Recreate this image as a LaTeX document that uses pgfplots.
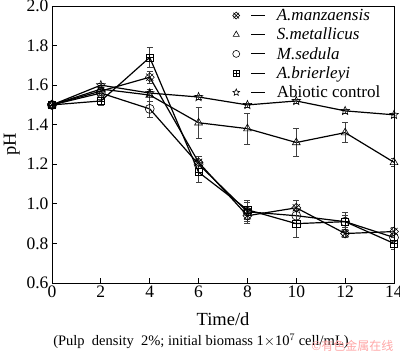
\documentclass[border=0pt]{standalone}
\usepackage{pgfplots}
\pgfplotsset{compat=1.18}
\usepackage{fontspec}
\setmainfont{Liberation Serif}
\newfontfamily\cjk{Noto Sans CJK SC}
\pgfdeclareplotmark{xdiamond}{%
  \pgfpathmoveto{\pgfpoint{0pt}{\pgfplotmarksize}}%
  \pgfpathlineto{\pgfpoint{\pgfplotmarksize}{0pt}}%
  \pgfpathlineto{\pgfpoint{0pt}{-\pgfplotmarksize}}%
  \pgfpathlineto{\pgfpoint{-\pgfplotmarksize}{0pt}}%
  \pgfpathclose
  \pgfpathmoveto{\pgfpoint{-0.8\pgfplotmarksize}{-0.8\pgfplotmarksize}}%
  \pgfpathlineto{\pgfpoint{0.8\pgfplotmarksize}{0.8\pgfplotmarksize}}%
  \pgfpathmoveto{\pgfpoint{-0.8\pgfplotmarksize}{0.8\pgfplotmarksize}}%
  \pgfpathlineto{\pgfpoint{0.8\pgfplotmarksize}{-0.8\pgfplotmarksize}}%
  \pgfusepathqstroke}
\pgfdeclareplotmark{sqplus}{%
  \pgfpathrectangle{\pgfpoint{-0.8\pgfplotmarksize}{-0.8\pgfplotmarksize}}{\pgfpoint{1.6\pgfplotmarksize}{1.6\pgfplotmarksize}}%
  \pgfpathmoveto{\pgfpoint{-0.8\pgfplotmarksize}{0pt}}%
  \pgfpathlineto{\pgfpoint{0.8\pgfplotmarksize}{0pt}}%
  \pgfpathmoveto{\pgfpoint{0pt}{-0.8\pgfplotmarksize}}%
  \pgfpathlineto{\pgfpoint{0pt}{0.8\pgfplotmarksize}}%
  \pgfusepathqstroke}
\pgfdeclareplotmark{ostar}{%
  \pgfpathmoveto{\pgfpointpolar{90}{\pgfplotmarksize}}%
  \pgfpathlineto{\pgfpointpolar{126}{0.45\pgfplotmarksize}}%
  \pgfpathlineto{\pgfpointpolar{162}{\pgfplotmarksize}}%
  \pgfpathlineto{\pgfpointpolar{198}{0.45\pgfplotmarksize}}%
  \pgfpathlineto{\pgfpointpolar{234}{\pgfplotmarksize}}%
  \pgfpathlineto{\pgfpointpolar{270}{0.45\pgfplotmarksize}}%
  \pgfpathlineto{\pgfpointpolar{306}{\pgfplotmarksize}}%
  \pgfpathlineto{\pgfpointpolar{342}{0.45\pgfplotmarksize}}%
  \pgfpathlineto{\pgfpointpolar{18}{\pgfplotmarksize}}%
  \pgfpathlineto{\pgfpointpolar{54}{0.45\pgfplotmarksize}}%
  \pgfpathclose
  \pgfusepathqstroke}
\begin{document}
\begin{tikzpicture}[x=1pt,y=1pt]
\begin{axis}[
  at={(0pt,0pt)}, anchor=south west,
  scale only axis, width=342pt, height=277pt,
  xmin=0, xmax=14, ymin=0.6, ymax=2.0,
  xtick={0,2,...,14}, ytick={0.6,0.8,...,2.0},
  yticklabel style={/pgf/number format/fixed,/pgf/number format/fixed zerofill,/pgf/number format/precision=1},
  /pgf/number format/assume math mode=true,
  tick pos=left, tick align=inside, major tick length=5pt,
  ticklabel style={font=\fontsize{17.5}{17.5}\selectfont},
  xticklabel style={yshift=1pt},
  xlabel={Time/d}, ylabel={pH},
  label style={font=\fontsize{18.5}{18.5}\selectfont},
  xlabel style={yshift=-8pt},
  ylabel style={yshift=0pt},
  axis line style={line width=0.9pt},
  every tick/.style={line width=0.8pt,black},
  every axis plot/.append style={black, line width=1.2pt, mark size=4.5pt,
    mark options={solid, line width=0.6pt}},
  error bars/y dir=both, error bars/y explicit, error bars/error mark=-,
  error bars/error bar style={line width=0.5pt, black!75},
  error bars/error mark options={line width=0.5pt, mark size=3pt, rotate=90, black!75},
  legend style={draw=none, fill=none, at={(0.525,1.0)}, anchor=north west,
    font=\fontsize{17}{17}\selectfont, row sep=2pt, inner sep=1pt,
    /tikz/every odd column/.append style={column sep=9pt}},
  legend cell align=left,
  legend image code/.code={%
    \draw[mark size=3.5pt] plot coordinates {(4pt,0pt)};
    \draw[line width=1.2pt] (19pt,0pt) -- (33pt,0pt);
  },
]
\addplot[mark=xdiamond] coordinates {
 (0,1.50) +- (0,0.00)
 (2,1.57) +- (0,0.02)
 (4,1.64) +- (0,0.03)
 (6,1.21) +- (0,0.03)
 (8,0.94) +- (0,0.04)
 (10,0.98) +- (0,0.04)
 (12,0.85) +- (0,0.02)
 (14,0.86) +- (0,0.02)
};
\addlegendentry{\textit{A.manzaensis}}
\addplot[mark=triangle] coordinates {
 (0,1.50) +- (0,0.00)
 (2,1.58) +- (0,0.03)
 (4,1.55) +- (0,0.03)
 (6,1.41) +- (0,0.08)
 (8,1.38) +- (0,0.08)
 (10,1.31) +- (0,0.07)
 (12,1.36) +- (0,0.05)
 (14,1.21) +- (0,0.02)
};
\addlegendentry{\textit{S.metallicus}}
\addplot[mark=o] coordinates {
 (0,1.50) +- (0,0.00)
 (2,1.56) +- (0,0.03)
 (4,1.48) +- (0,0.04)
 (6,1.20) +- (0,0.04)
 (8,0.96) +- (0,0.05)
 (10,0.94) +- (0,0.04)
 (12,0.91) +- (0,0.03)
 (14,0.83) +- (0,0.03)
};
\addlegendentry{\textit{M.sedula}}
\addplot[mark=sqplus] coordinates {
 (0,1.50) +- (0,0.00)
 (2,1.52) +- (0,0.02)
 (4,1.74) +- (0,0.05)
 (6,1.16) +- (0,0.05)
 (8,0.97) +- (0,0.05)
 (10,0.90) +- (0,0.07)
 (12,0.91) +- (0,0.05)
 (14,0.80) +- (0,0.03)
};
\addlegendentry{\textit{A.brierleyi}}
\addplot[mark=ostar] coordinates {
 (0,1.50) +- (0,0.00)
 (2,1.60) +- (0,0.01)
 (4,1.56) +- (0,0.01)
 (6,1.54) +- (0,0.01)
 (8,1.50) +- (0,0.01)
 (10,1.52) +- (0,0.01)
 (12,1.47) +- (0,0.01)
 (14,1.45) +- (0,0.01)
};
\addlegendentry{Abiotic control}
\end{axis}
\node[font=\fontsize{14.5}{14.5}\selectfont] at (149pt,-58pt) {(Pulp\ \ density\ \ 2\%; initial biomass 1$\times$10$^{7}$ cell/mL)};
\node[font=\cjk\fontsize{12}{12}\selectfont, text=red!35, anchor=east] at (345pt,-63pt) {©有色金属在线};
\pgfresetboundingbox
\path[use as bounding box] (-52pt,-72pt) rectangle (348pt,283pt);
\end{tikzpicture}
\end{document}
